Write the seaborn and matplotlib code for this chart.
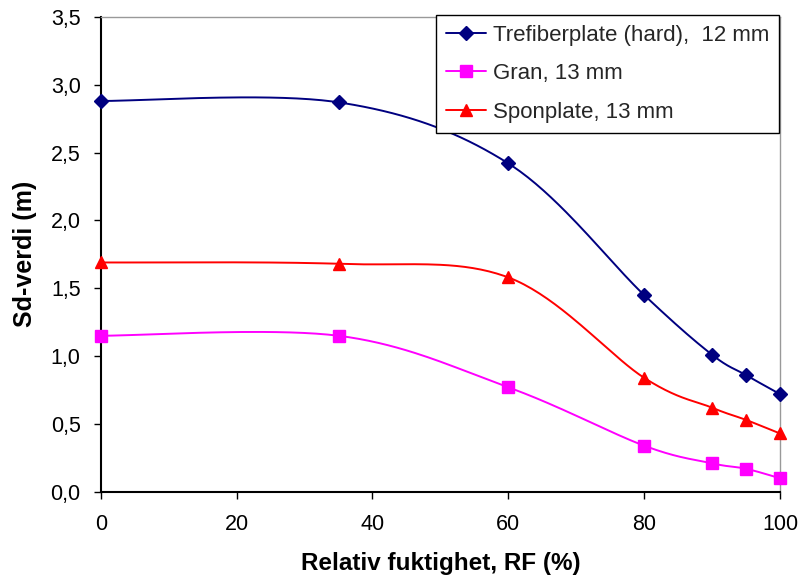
import numpy as np
import pandas as pd
import matplotlib
matplotlib.use("Agg")
import matplotlib.pyplot as plt
from matplotlib.lines import Line2D
import seaborn as sns

rf = [0, 35, 60, 80, 90, 95, 100]
trefiber = [2.88, 2.87, 2.42, 1.45, 1.01, 0.86, 0.72]
gran = [1.15, 1.15, 0.77, 0.34, 0.21, 0.17, 0.10]
spon = [1.69, 1.68, 1.58, 0.84, 0.62, 0.53, 0.43]

series_names = ["Trefiberplate (hard),  12 mm", "Gran, 13 mm", "Sponplate, 13 mm"]
series_values = [trefiber, gran, spon]
colors = ["#000080", "#FF00FF", "#FF0000"]
markers = ["D", "s", "^"]
msizes = [7.5, 8, 9]

sns.set_theme(style="white")
plt.rcParams['font.family'] = ['Liberation Sans', 'DejaVu Sans']

fig = plt.figure(figsize=(8, 5.8), dpi=100)
ax = fig.add_axes([0.126, 0.152, 0.849, 0.819])

XMAX, YMAX = 100, 3.5
W, H = 679.0, 475.0


def excel_smooth(xs, ys, n=40):
    # Bezier smoothing (Catmull-Rom style) computed in screen-proportional space
    px = np.asarray(xs, float) / XMAX * W
    py = np.asarray(ys, float) / YMAX * H
    P = np.column_stack([px, py])
    Pe = np.vstack([P[0], P, P[-1]])
    out = []
    t = np.linspace(0, 1, n)[:, None]
    for i in range(len(P) - 1):
        p0, p1, p2, p3 = Pe[i], Pe[i + 1], Pe[i + 2], Pe[i + 3]
        b1 = p1 + (p2 - p0) / 6.0
        b2 = p2 - (p3 - p1) / 6.0
        seg = ((1 - t) ** 3) * p1 + 3 * ((1 - t) ** 2) * t * b1 + 3 * (1 - t) * t ** 2 * b2 + t ** 3 * p2
        out.append(seg if i == 0 else seg[1:])
    out = np.vstack(out)
    return out[:, 0] / W * XMAX, out[:, 1] / H * YMAX


handles = []
for name, vals, c, m, ms in zip(series_names, series_values, colors, markers, msizes):
    sx, sy = excel_smooth(rf, vals)
    df_s = pd.DataFrame({"x": sx, "y": sy})
    sns.lineplot(data=df_s, x="x", y="y", sort=False, estimator=None, color=c,
                 linewidth=1.4, ax=ax, legend=False)
    df_p = pd.DataFrame({"x": rf, "y": vals})
    ax.plot(df_p["x"], df_p["y"], linestyle="none", marker=m, markersize=ms,
            color=c, markeredgecolor=c, zorder=5, clip_on=False)
    handles.append(Line2D([0], [0], color=c, linewidth=1.4, marker=m, markersize=ms,
                          markeredgecolor=c))

ax.set_xlim(0, 100)
ax.set_ylim(0, 3.5)
ax.set_xticks([0, 20, 40, 60, 80, 100])
ax.set_yticks(np.arange(0, 3.51, 0.5))
ax.set_yticklabels([f"{v:.1f}".replace(".", ",") for v in np.arange(0, 3.51, 0.5)])
ax.tick_params(axis="both", direction="out", length=5, width=1, color="black",
               labelsize=15.5, bottom=True, left=True, labelcolor="black")
ax.tick_params(axis="y", pad=9.5)
ax.tick_params(axis="x", pad=11)
for s in ["left", "bottom"]:
    ax.spines[s].set_color("black")
    ax.spines[s].set_linewidth(1.5)
for s in ["top", "right"]:
    ax.spines[s].set_color("#999999")
    ax.spines[s].set_linewidth(1.0)

ax.set_xlabel("Relativ fuktighet, RF (%)", fontsize=17.5, fontweight="bold", labelpad=12, color="black")
ax.set_ylabel("Sd-verdi (m)", fontsize=18, fontweight="bold", labelpad=10, color="black")

leg = ax.legend(handles, series_names, loc="upper right", bbox_to_anchor=(0.9985, 1.004),
                fontsize=16, frameon=True, fancybox=False, framealpha=1,
                edgecolor="black", handlelength=1.8, borderpad=0.45, labelspacing=0.78,
                handletextpad=0.3, borderaxespad=0)
leg.get_frame().set_linewidth(1.0)

fig.savefig("out.png", dpi=100)
